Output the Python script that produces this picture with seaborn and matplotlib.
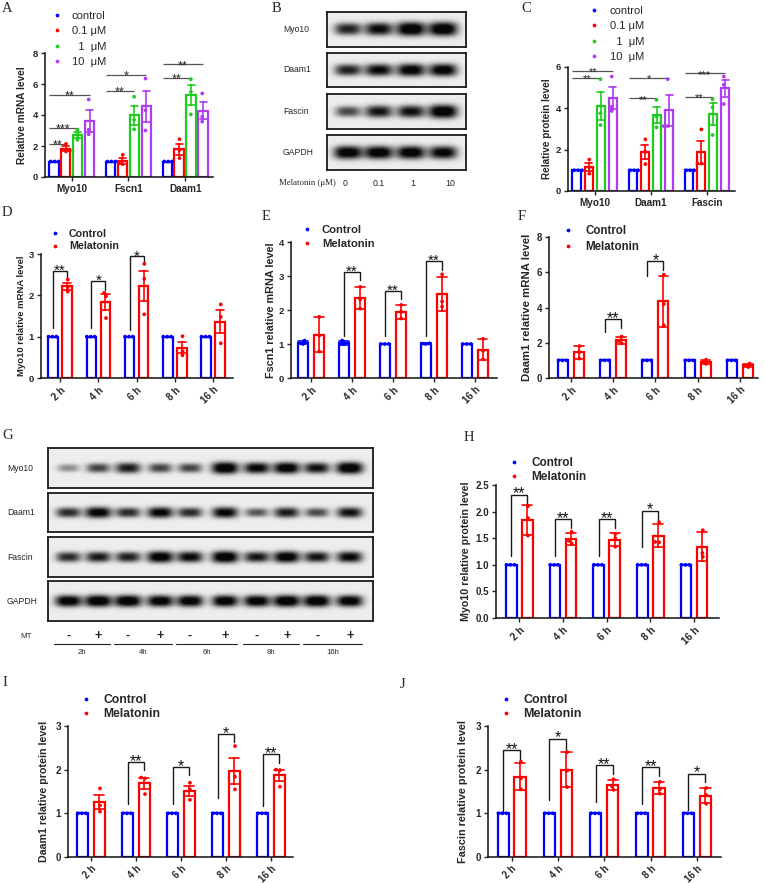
import numpy as np
import pandas as pd
import matplotlib
matplotlib.use("Agg")
import matplotlib.pyplot as plt
import seaborn as sns
from matplotlib.lines import Line2D

sns.set_theme(style="ticks")
plt.rcParams["font.family"] = ["Liberation Sans", "DejaVu Sans"]
plt.rcParams["axes.linewidth"] = 1.1
plt.rcParams["xtick.major.width"] = 1.0
plt.rcParams["ytick.major.width"] = 1.0
plt.rcParams["xtick.major.size"] = 3
plt.rcParams["ytick.major.size"] = 3
plt.rcParams["xtick.major.pad"] = 2
plt.rcParams["ytick.major.pad"] = 2
plt.rcParams["axes.edgecolor"] = "#111111"

# ---------------- data ----------------
# Panel A: relative mRNA level, 3 replicates per dose
a_genes = ["Myo10", "Fscn1", "Daam1"]
a_doses = ["control", "0.1 μM", "  1  μM", "10  μM"]
a_myo10 = [[1.0, 1.0, 1.0], [2.14, 1.71, 1.65], [3.04, 2.72, 2.40], [5.00, 3.04, 2.76]]
a_fscn1 = [[1.0, 1.0, 1.0], [1.43, 0.90, 0.83], [5.18, 3.68, 3.08], [6.35, 4.30, 3.00]]
a_daam1 = [[1.0, 1.0, 1.0], [2.44, 1.74, 1.22], [6.31, 5.49, 4.04], [5.39, 3.90, 3.57]]
a_sig = [(0, 1, 2.12, "**"), (0, 2, 3.19, "***"), (0, 3, 5.28, "**"),
         (1, 2, 5.54, "**"), (1, 3, 6.57, "*"), (2, 2, 6.40, "**"), (2, 3, 7.27, "**")]

# Panel C: relative protein level
c_proteins = ["Myo10", "Daam1", "Fascin"]
c_myo10 = [[1.0, 1.0, 1.0], [1.52, 1.15, 0.84], [5.41, 3.76, 3.19], [5.54, 4.08, 3.87]]
c_daam1 = [[1.0, 1.0, 1.0], [2.50, 1.90, 1.30], [4.41, 3.60, 3.08], [5.41, 3.14, 3.14]]
c_fascin = [[1.0, 1.0, 1.0], [2.98, 1.33, 1.33], [4.44, 4.05, 2.71], [5.54, 5.14, 4.21]]
c_sig = [(0, 2, 5.49, "**"), (0, 3, 5.83, "**"), (1, 2, 4.52, "**"), (1, 3, 5.49, "*"),
         (2, 2, 4.57, "**"), (2, 3, 5.70, "***")]

# Time course panels
times = ["2 h", "4 h", "6 h", "8 h", "16 h"]
groups = ["Control", "Melatonin"]

d_control = [[1.0, 1.0, 1.0]] * 5
d_melatonin = [[2.38, 2.20, 2.09], [2.06, 1.98, 1.45], [2.76, 2.40, 1.54], [1.01, 0.65, 0.55], [1.78, 1.48, 0.84]]
d_sig = [(0, 2.60, 1.20, 2.39, "**"), (1, 2.34, 1.20, 2.13, "*"), (2, 2.94, 1.16, 2.78, "*")]

e_control = [[1.10, 1.02, 1.00], [1.10, 1.00, 1.00], [1.0, 1.0, 1.0], [1.02, 1.01, 1.00], [1.0, 1.0, 1.0]]
e_melatonin = [[1.80, 1.25, 0.78], [2.68, 2.31, 2.04], [2.15, 1.95, 1.75], [3.05, 2.25, 2.10], [1.15, 0.80, 0.55]]
e_sig = [(1, 3.12, 1.25, 2.87, "**"), (2, 2.56, 1.25, 2.33, "**"), (3, 3.44, 1.25, 3.17, "**")]

f_control = [[1.0, 1.0, 1.0]] * 5
f_melatonin = [[1.81, 1.47, 1.10], [2.35, 2.10, 1.97], [5.86, 4.20, 2.99], [1.04, 0.90, 0.80], [0.82, 0.72, 0.62]]
f_sig = [(1, 3.33, 2.60, 2.85, "**"), (2, 6.64, 5.80, 6.10, "*")]

h_control = [[1.0, 1.0, 1.0]] * 5
h_melatonin = [[2.10, 1.88, 1.55], [1.62, 1.45, 1.40], [1.58, 1.50, 1.34], [1.80, 1.43, 1.42], [1.65, 1.22, 1.15]]
h_sig = [(0, 2.32, 1.16, 2.11, "**"), (1, 1.86, 1.16, 1.70, "**"), (2, 1.86, 1.17, 1.69, "**"), (3, 2.02, 1.33, 1.82, "*")]

i_control = [[1.0, 1.0, 1.0]] * 5
i_melatonin = [[1.57, 1.18, 1.04], [1.82, 1.80, 1.44], [1.70, 1.55, 1.31], [2.54, 1.84, 1.55], [2.00, 1.99, 1.61]]
i_sig = [(1, 2.18, 1.21, 1.99, "**"), (2, 2.05, 1.21, 1.87, "*"), (3, 2.81, 1.34, 2.63, "*"), (4, 2.35, 1.17, 2.16, "**")]

j_control = [[1.0, 1.0, 1.0]] * 5
j_melatonin = [[2.18, 1.80, 1.55], [2.40, 1.98, 1.60], [1.78, 1.62, 1.54], [1.72, 1.55, 1.45], [1.58, 1.42, 1.22]]
j_sig = [(0, 2.44, 1.02, 2.18, "**"), (1, 2.71, 1.31, 2.41, "*"), (2, 2.10, 1.25, 1.91, "**"),
         (3, 2.05, 1.21, 1.86, "**"), (4, 1.91, 1.08, 1.72, "*")]

# Western blot band intensities (relative darkness)
blot_rows = ["Myo10", "Daam1", "Fascin", "GAPDH"]
b_doses = ["0", "0.1", "1", "10"]
b_myo10 = [0.75, 0.85, 1.0, 1.0]
b_daam1 = [0.75, 0.85, 0.92, 0.92]
b_fascin = [0.6, 0.8, 0.82, 1.0]
b_gapdh = [0.95, 0.95, 0.95, 0.9]

g_mt = ["-", "+"] * 5
g_hours = ["2h", "4h", "6h", "8h", "16h"]
g_myo10 = [0.35, 0.62, 0.78, 0.62, 0.62, 1.0, 0.88, 0.95, 0.82, 1.0]
g_daam1 = [0.72, 0.92, 0.72, 0.88, 0.72, 0.88, 0.55, 0.78, 0.6, 0.82]
g_fascin = [0.72, 0.78, 0.76, 0.95, 0.86, 1.0, 0.8, 0.95, 0.8, 0.86]
g_gapdh = [0.95, 1.0, 1.0, 0.95, 0.95, 0.95, 0.95, 1.0, 1.0, 0.95]

# ---------------- layout helpers ----------------
W, H = 764, 883
fig = plt.figure(figsize=(W / 100, H / 100), dpi=100)
fig.patch.set_facecolor("white")

BLUE, RED, GREEN, PURPLE = "#0000ff", "#ff0000", "#1ecc1e", "#b03cf0"


def fx(x):
    return x / W


def fy(y):
    return 1 - y / H


def add_ax(l, t, r, b):
    return fig.add_axes([l / W, 1 - b / H, (r - l) / W, (b - t) / H])


def make_df(cats, grps, table):
    rows = []
    for gi, cat in enumerate(cats):
        for hi, grp in enumerate(grps):
            for v in table[gi][hi]:
                rows.append((cat, grp, v))
    return pd.DataFrame(rows, columns=["cat", "grp", "val"])


def bar_panel(box, cats, grps, table, colors, err, ylim, yticks, yfmt, xlim,
              ylabel, width, gap, cap, tfs, xfs, lfs, ylx, rot):
    l, t, r, b = box
    ax = add_ax(l, t, r, b)
    df = make_df(cats, grps, table)
    sns.barplot(data=df, x="cat", y="val", hue="grp", order=cats, hue_order=grps,
                palette=colors, fill=False, errorbar=err, capsize=cap, width=width,
                gap=gap, linewidth=1.6, err_kws={"linewidth": 1.2}, legend=False, ax=ax)
    centers = sorted(p.get_x() + p.get_width() / 2 for p in ax.patches)
    bw = ax.patches[0].get_width()
    sns.swarmplot(data=df, x="cat", y="val", hue="grp", order=cats, hue_order=grps,
                  palette=colors, dodge=True, size=2.7, legend=False, ax=ax, zorder=4)
    ax.set_xlim(xlim)
    ax.set_ylim(ylim)
    ax.set_yticks(yticks)
    ax.set_yticklabels([yfmt.format(v) for v in yticks])
    ax.set_xticks(range(len(cats)))
    if rot:
        ax.set_xticklabels(cats, rotation=45, ha="right", rotation_mode="anchor")
    else:
        ax.set_xticklabels(cats)
    ax.tick_params(axis="y", labelsize=tfs)
    ax.tick_params(axis="x", labelsize=xfs)
    for lab in ax.get_xticklabels() + ax.get_yticklabels():
        lab.set_fontweight("bold")
    ax.set_xlabel("")
    ax.set_ylabel(ylabel, fontsize=lfs, fontweight="bold")
    ax.yaxis.set_label_coords((ylx - l) / (r - l), 0.5)
    ax.yaxis.label.set_va("center")
    sns.despine(ax=ax)
    return ax, centers, bw


def legend(ax, labels, colors, mx, tx, yc, fs, weight, ls):
    fpx = fs * 100 / 72
    hl = 0.8
    x0 = mx - hl * fpx / 2
    htp = (tx - x0 - hl * fpx) / fpx
    handles = [Line2D([], [], ls="", marker="o", markersize=2.7, color=c, markeredgewidth=0) for c in colors]
    ax.legend(handles, labels, loc="center left", bbox_to_anchor=(fx(x0), fy(yc)),
              bbox_transform=fig.transFigure, frameon=False, borderpad=0, borderaxespad=0,
              handlelength=hl, handletextpad=htp, labelspacing=ls,
              prop={"size": fs, "weight": weight})


def sig_lines(ax, centers, bw, sig, nh, fs, off):
    for g, h, y, lab in sig:
        x0 = centers[g * nh] - bw / 2
        x1 = centers[g * nh + h]
        ax.plot([x0, x1], [y, y], color="#555555", lw=0.9, solid_capstyle="butt")
        ax.annotate(lab, ((x0 + x1) / 2, y), xytext=(0, off), textcoords="offset points",
                    ha="center", va="baseline", fontsize=fs, color="#222222")


def brackets(ax, centers, sig, fs):
    for g, top, lb, rb, lab in sig:
        x0, x1 = centers[2 * g], centers[2 * g + 1]
        ax.plot([x0, x0, x1, x1], [lb, top, top, rb], color="#1a1a1a", lw=1.0,
                solid_joinstyle="miter")
        ax.annotate(lab, ((x0 + x1) / 2, top), xytext=(0, -2.8), textcoords="offset points",
                    ha="center", va="baseline", fontsize=fs, color="#111111")


def blot(box, intens, lanes, hw, hh):
    ax = add_ax(*box)
    ny, nx = 80, 420
    yy, xx = np.mgrid[0:1:ny * 1j, 0:1:nx * 1j]
    dark = np.zeros_like(xx)
    for I, c in zip(intens, lanes):
        sx = hw * (0.8 + 0.35 * I)
        sy = hh * (0.55 + 0.6 * I)
        dark += 1.2 * I * np.exp(-np.abs((xx - c) / sx) ** 3 - np.abs((yy - 0.5) / sy) ** 2.5)
    img = 0.93 - 0.9 * np.clip(dark, 0, 1)
    ax.imshow(img, cmap="gray", vmin=0, vmax=1, aspect="auto", interpolation="bilinear")
    ax.set_xticks([])
    ax.set_yticks([])
    for s in ax.spines.values():
        s.set_visible(True)
        s.set_linewidth(1.3)
        s.set_color("#1a1a1a")
    return ax


def letter(x, y, s):
    fig.text(fx(x), fy(y), s, family=["Liberation Serif", "DejaVu Serif"], fontsize=10.5,
             ha="left", va="center")


# ---------------- Panel A ----------------
axA, cA, bwA = bar_panel((45, 53, 213, 177), a_genes, a_doses, [a_myo10, a_fscn1, a_daam1],
                         [BLUE, RED, GREEN, PURPLE], "se", (0, 8), [0, 2, 4, 6, 8], "{:g}",
                         (-0.47, 2.49), "Relative mRNA level", 0.84, 0.2, 0.5,
                         6.8, 7.2, 7.3, 22, False)
sig_lines(axA, cA, bwA, a_sig, 4, 9, -3.4)
legend(axA, a_doses, [BLUE, RED, GREEN, PURPLE], 57, 72, 39, 8, "normal", 0.5)
letter(2, 8, "A")

# ---------------- Panel B ----------------
b_lanes = [0.15, 0.37, 0.60, 0.83]
b_rows_px = [(12, 47), (53, 87), (94, 129), (135, 170)]
for name, vals, (t, b) in zip(blot_rows, [b_myo10, b_daam1, b_fascin, b_gapdh], b_rows_px):
    blot((327, t, 466, b), vals, b_lanes, 0.09, 0.17)
    fig.text(fx(283), fy((t + b) / 2), name, fontsize=6.2, ha="left", va="center")
fig.text(fx(279), fy(183), "Melatonin (μM)", family=["Liberation Serif", "DejaVu Serif"],
         fontsize=6.3, ha="left", va="center")
for lab, x in zip(b_doses, [345, 379, 413, 450]):
    fig.text(fx(x), fy(183), lab, fontsize=6.3, ha="center", va="center")
letter(272, 8, "B")

# ---------------- Panel C ----------------
axC, cC, bwC = bar_panel((568, 67, 735, 191), c_proteins, a_doses, [c_myo10, c_daam1, c_fascin],
                         [BLUE, RED, GREEN, PURPLE], "se", (0, 6), [0, 2, 4, 6], "{:g}",
                         (-0.48, 2.5), "Relative protein level", 0.86, 0.28, 0.5,
                         6.8, 7.2, 7.2, 547, False)
sig_lines(axC, cC, bwC, c_sig, 4, 8, -3.6)
legend(axC, a_doses, [BLUE, RED, GREEN, PURPLE], 594, 610, 34, 8, "normal", 0.5)
letter(521, 8, "C")

# ---------------- Panel D ----------------
axD, cD, _ = bar_panel((41, 254, 233, 378), times, groups,
                       [[c_, m_] for c_, m_ in zip(d_control, d_melatonin)],
                       [BLUE, RED], "se", (0, 3), [0, 1, 2, 3], "{:g}", (-0.5, 4.52),
                       "Myo10 relative mRNA level", 0.73, 0.31, 0.45, 6.8, 7.0, 6.8, 21, True)
brackets(axD, cD, d_sig, 11)
legend(axD, groups, [BLUE, RED], 55, 69, 240, 7.7, "bold", 0.25)
letter(2, 213, "D")

# ---------------- Panel E ----------------
axE, cE, _ = bar_panel((291, 242, 497, 378), times, groups,
                       [[c_, m_] for c_, m_ in zip(e_control, e_melatonin)],
                       [BLUE, RED], "sd", (0, 4), [0, 1, 2, 3, 4], "{:g}", (-0.49, 4.54),
                       "Fscn1 relative mRNA level", 0.78, 0.37, 0.45, 6.8, 7.0, 7.8, 271, True)
brackets(axE, cE, e_sig, 11)
legend(axE, groups, [BLUE, RED], 307, 322, 237, 8.1, "bold", 0.35)
letter(262, 217, "E")

# ---------------- Panel F ----------------
axF, cF, _ = bar_panel((549, 237, 758, 378), times, groups,
                       [[c_, m_] for c_, m_ in zip(f_control, f_melatonin)],
                       [BLUE, RED], "sd", (0, 8), [0, 2, 4, 6, 8], "{:g}", (-0.52, 4.43),
                       "Daam1 relative mRNA level", 0.76, 0.38, 0.45, 7.0, 7.0, 8.2, 527, True)
brackets(axF, cF, f_sig, 11.5)
legend(axF, groups, [BLUE, RED], 568, 585, 239, 8.3, "bold", 0.33)
letter(518, 217, "F")

# ---------------- Panel G ----------------
g_lanes = [0.062, 0.154, 0.246, 0.345, 0.437, 0.545, 0.643, 0.735, 0.828, 0.929]
g_rows_px = [(448, 488), (493, 532), (537, 577), (581, 621)]
for name, vals, (t, b) in zip(blot_rows, [g_myo10, g_daam1, g_fascin, g_gapdh], g_rows_px):
    blot((48, t, 373, b), vals, g_lanes, 0.036, 0.13)
    fig.text(fx(7), fy((t + b) / 2), name, fontsize=6.2, ha="left", va="center")
fig.text(fx(26), fy(636), "MT", fontsize=5.8, ha="center", va="center")
for s, fr in zip(g_mt, g_lanes):
    fig.text(fx(48 + fr * 325), fy(636), s, fontsize=9, fontweight="bold", ha="center", va="center")
for k, lab in enumerate(g_hours):
    xa = 48 + g_lanes[2 * k] * 325 - 14
    xb = 48 + g_lanes[2 * k + 1] * 325 + 12
    fig.add_artist(Line2D([fx(xa), fx(xb)], [fy(644), fy(644)], color="#222222", lw=0.8,
                          transform=fig.transFigure))
    fig.text(fx((xa + xb) / 2), fy(653), lab, fontsize=5.6, ha="center", va="center")
letter(2, 435, "G")

# ---------------- Panel H ----------------
axH, cH, _ = bar_panel((496, 485, 719, 618), times, groups,
                       [[c_, m_] for c_, m_ in zip(h_control, h_melatonin)],
                       [BLUE, RED], "sd", (0, 2.5), [0, 0.5, 1.0, 1.5, 2.0, 2.5], "{:.1f}",
                       (-0.53, 4.57), "Myo10 relative protein level", 0.73, 0.33, 0.45,
                       7.0, 7.2, 7.7, 466, True)
brackets(axH, cH, h_sig, 11.5)
legend(axH, groups, [BLUE, RED], 514, 531, 470, 8.5, "bold", 0.22)
letter(464, 437, "H")

# ---------------- Panel I ----------------
axI, cI, _ = bar_panel((68, 726, 293, 857), times, groups,
                       [[c_, m_] for c_, m_ in zip(i_control, i_melatonin)],
                       [BLUE, RED], "se", (0, 3), [0, 1, 2, 3], "{:g}", (-0.51, 4.49),
                       "Daam1 relative protein level", 0.74, 0.35, 0.45, 7.0, 6.9, 7.7, 44, True)
brackets(axI, cI, i_sig, 11.5)
legend(axI, groups, [BLUE, RED], 86, 103, 707, 8.7, "bold", 0.2)
letter(2, 683, "I")

# ---------------- Panel J ----------------
axJ, cJ, _ = bar_panel((488, 726, 721, 857), times, groups,
                       [[c_, m_] for c_, m_ in zip(j_control, j_melatonin)],
                       [BLUE, RED], "sd", (0, 3), [0, 1, 2, 3], "{:g}", (-0.51, 4.52),
                       "Fascin relative protein level", 0.73, 0.33, 0.45, 7.0, 6.9, 7.8, 463, True)
brackets(axJ, cJ, j_sig, 11.5)
legend(axJ, groups, [BLUE, RED], 506, 523, 707, 9.0, "bold", 0.17)
letter(400, 684, "J")

fig.savefig("out.png", dpi=100, facecolor="white")
